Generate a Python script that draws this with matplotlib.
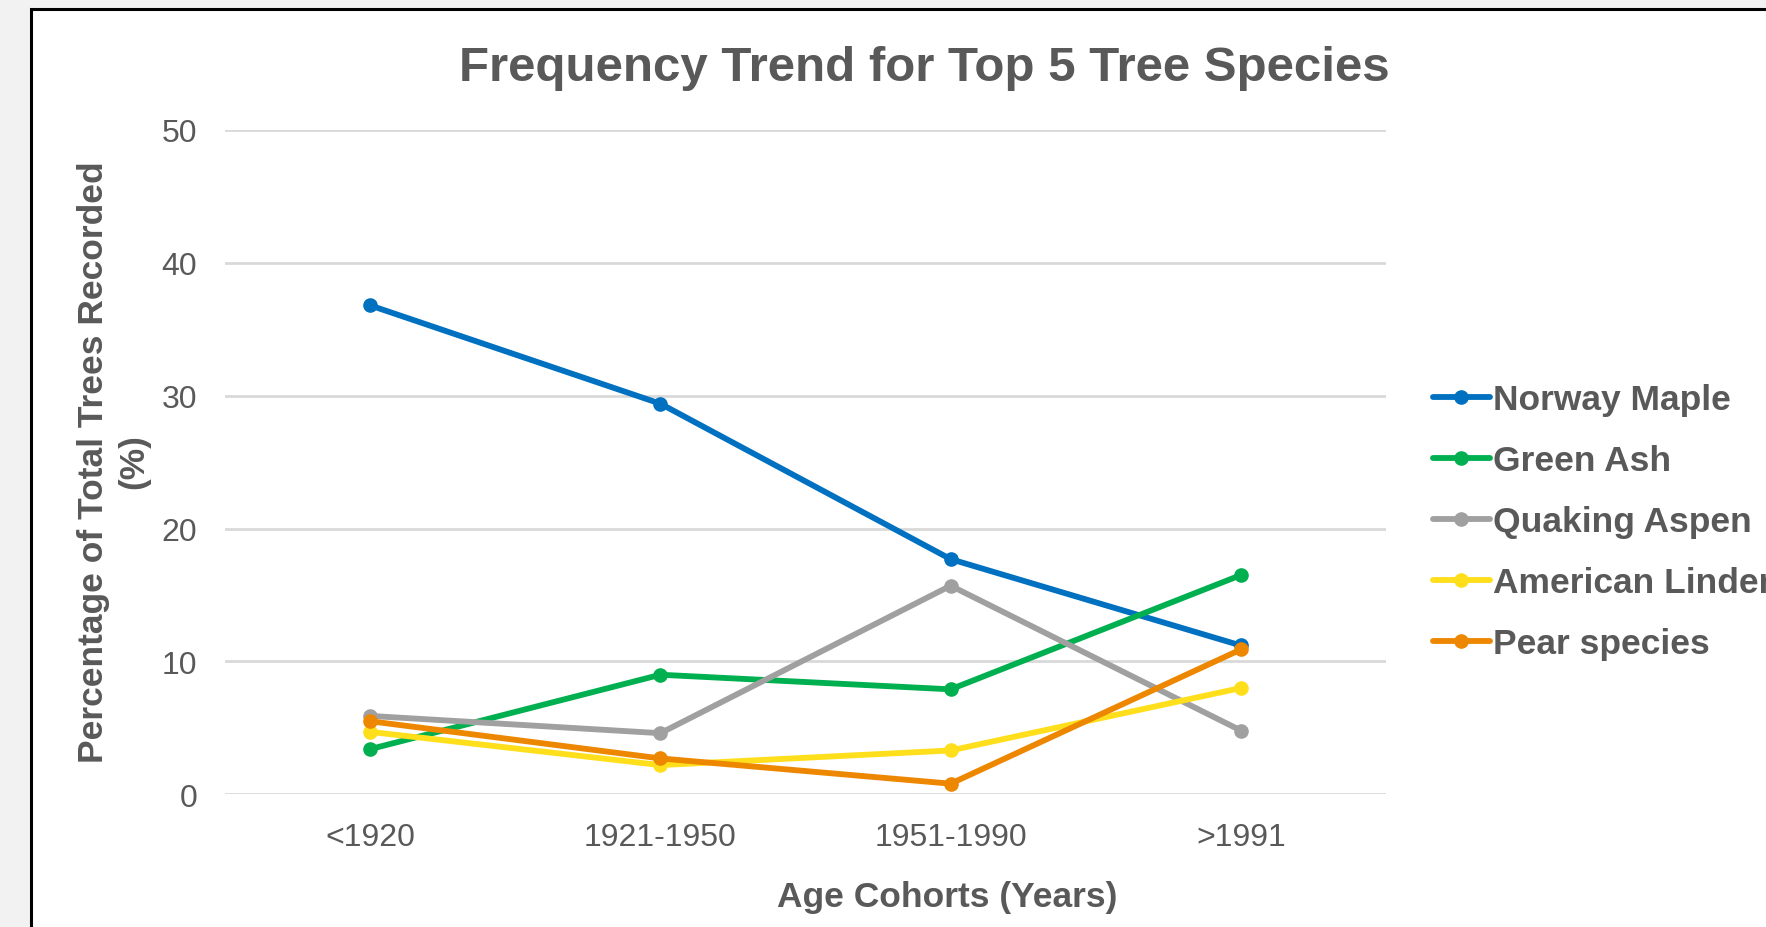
import matplotlib
matplotlib.use("Agg")
import matplotlib.pyplot as plt
from matplotlib.patches import Rectangle

plt.rcParams['font.family'] = ['Liberation Sans', 'DejaVu Sans']

categories = ["<1920", "1921-1950", "1951-1990", ">1991"]
norway_maple = [36.8, 29.4, 17.7, 11.2]
green_ash = [3.4, 9.0, 7.9, 16.5]
quaking_aspen = [5.9, 4.6, 15.7, 4.8]
american_linden = [4.7, 2.2, 3.3, 8.0]
pear_species = [5.5, 2.7, 0.8, 10.9]
series_names = ["Norway Maple", "Green Ash", "Quaking Aspen", "American Linden", "Pear species"]
series_values = [norway_maple, green_ash, quaking_aspen, american_linden, pear_species]
colors = ["#0070C0", "#00B050", "#A0A0A0", "#FFDF1B", "#EE8700"]
yticks = [0, 10, 20, 30, 40, 50]

W, H = 1766, 928
fig = plt.figure(figsize=(W / 100, H / 100), dpi=100)
fig.patch.set_facecolor("#F2F2F2")
fig.patches.append(Rectangle((31 / W, -0.05), 1.1, (H - 10) / H + 0.05,
                             transform=fig.transFigure, facecolor="white",
                             edgecolor="black", linewidth=2.2, zorder=-10))

ax = fig.add_axes([225 / W, 1 - 795.3 / H, (1386 - 225) / W, (795.3 - 131) / H])
ax.set_zorder(5)
ax.set_facecolor("none")
x = list(range(len(categories)))
for name, vals, c in zip(series_names, series_values, colors):
    ax.plot(x, vals, color=c, lw=4.2, marker="o", markersize=9.5, label=name,
            solid_capstyle="round", solid_joinstyle="round", zorder=3)

ax.set_xlim(-0.5, len(categories) - 0.5)
ax.set_ylim(0, 50)
ax.set_yticks(yticks)
ax.set_xticks(x)
ax.set_xticklabels(categories)
ax.grid(axis="y", color="#D9D9D9", lw=2, zorder=1)
ax.grid(axis="x", visible=False)
ax.set_axisbelow(True)
for s in ax.spines.values():
    s.set_visible(False)
ax.tick_params(axis="both", length=0, labelsize=23, labelcolor="#595959")
ax.tick_params(axis="x", pad=20)
ax.tick_params(axis="y", pad=20)

fig.text(924 / W, 1 - 68.5 / H, "Frequency Trend for Top 5 Tree Species",
         ha="center", va="center", fontsize=35.5, fontweight="bold", color="#595959")
fig.text(947 / W, 1 - 898 / H, "Age Cohorts (Years)", ha="center", va="center",
         fontsize=25.5, fontweight="bold", color="#595959")
fig.text(113.5 / W, 1 - 462 / H, "Percentage of Total Trees Recorded\n(%)",
         ha="center", va="center", rotation=90, multialignment="center",
         linespacing=1.3, fontsize=25.5, fontweight="bold", color="#595959")

leg = ax.legend(loc="upper left", bbox_to_anchor=(1433 / W, 1 - 384 / H),
                bbox_transform=fig.transFigure, frameon=False, borderpad=0,
                borderaxespad=0, handlelength=1.6, handletextpad=0.1,
                labelspacing=0.79, prop={"size": 25.5, "weight": "bold"})
for t in leg.get_texts():
    t.set_color("#595959")

fig.savefig("out.png", dpi=100, facecolor=fig.get_facecolor())
